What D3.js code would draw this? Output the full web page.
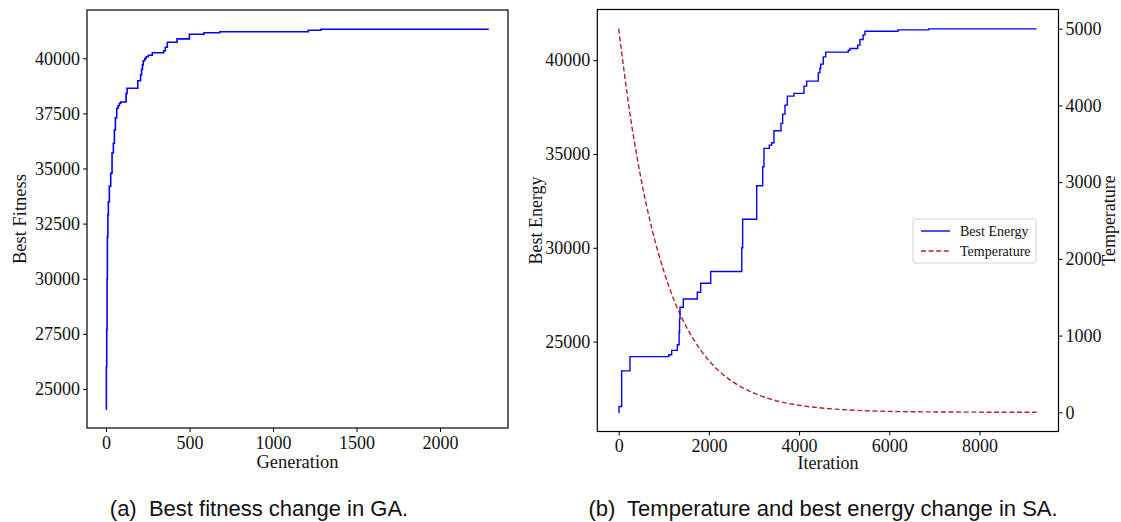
<!DOCTYPE html>
<html><head><meta charset="utf-8">
<script src="https://cdn.jsdelivr.net/npm/d3@7"></script>
<style>
html,body{margin:0;padding:0;background:#fff;}
svg{display:block;}
</style></head>
<body>
<svg id="chart" width="1121" height="522"></svg>
<script>
// ---------- DATA ----------
// (a) GA best fitness: step change points (generation, fitness)
const gaGeneration = [0, 2, 4, 6, 8, 11, 14, 20, 28, 36, 44, 50, 56, 64, 72, 80, 88, 120, 126, 190, 207, 213, 218, 223, 232, 240, 253, 277, 345, 355, 367, 425, 499, 587, 681, 1211, 1287, 2292];
const gaFitness    = [24074, 26000, 27672, 30000, 31906, 32900, 33494, 34200, 34782, 35700, 36143, 36747, 37300, 37731, 37850, 37958, 38017, 38400, 38639, 38984, 39250, 39500, 39700, 39891, 39990, 40073, 40136, 40254, 40345, 40500, 40726, 40880, 41089, 41162, 41207, 41270, 41316, 41316];

// (b) SA best energy: step change points (iteration, energy)
const saIteration = [0, 8, 66, 250, 1110, 1175, 1300, 1340, 1350, 1360, 1433, 1743, 1818, 2040, 2730, 2749, 3060, 3193, 3222, 3340, 3393, 3443, 3599, 3636, 3688, 3739, 3887, 4109, 4168, 4426, 4460, 4479, 4537, 4590, 5091, 5129, 5299, 5350, 5420, 5461, 6193, 6874, 9266];
const saEnergy    = [21219, 21540, 23440, 24201, 24300, 24530, 24830, 25500, 26200, 26832, 27274, 27630, 28110, 28735, 30000, 31518, 33307, 34318, 35298, 35474, 35596, 36235, 36629, 37125, 37604, 38083, 38227, 38616, 38882, 39324, 39558, 39787, 40176, 40426, 40532, 40623, 40799, 41102, 41350, 41544, 41614, 41667, 41667];

// (b) SA temperature (iteration, temperature)
const tempIteration = [0, 250, 500, 750, 1000, 1250, 1500, 1750, 2000, 2250, 2500, 2750, 3000, 3500, 4000, 4500, 5000, 6000, 7000, 8000, 9266];
const temperature   = [5000, 3890, 3030, 2360, 1840, 1430, 1115, 870, 675, 525, 410, 320, 250, 150, 92, 56, 34, 12, 5, 2, 0.5];

// tick values / labels
const gaXTicks = [0, 500, 1000, 1500, 2000];
const gaYTicks = [25000, 27500, 30000, 32500, 35000, 37500, 40000];
const saXTicks = [0, 2000, 4000, 6000, 8000];
const saYTicks = [25000, 30000, 35000, 40000];
const tempTicks = [0, 1000, 2000, 3000, 4000, 5000];
const legendLabels = ["Best Energy", "Temperature"];
const captions = ["(a)  Best fitness change in GA.", "(b)  Temperature and best energy change in SA."];

// ---------- DRAW ----------
const svg = d3.select("#chart");
const SERIF = "'Liberation Serif','Times New Roman',serif";
const SANS = "'Liberation Sans',Arial,Helvetica,sans-serif";
const BLUE = "#0000ff", RED = "#b22222";

function styleAxis(g, size) {
  g.selectAll("path.domain").remove();
  g.selectAll(".tick line").attr("stroke", "#000").attr("stroke-width", 1);
  g.selectAll(".tick text").attr("font-family", SERIF).attr("font-size", size).attr("fill", "#111");
}
function frame(x0, x1, y0, y1) {
  svg.append("rect").attr("x", x0).attr("y", y0).attr("width", x1 - x0).attr("height", y1 - y0)
    .attr("fill", "none").attr("stroke", "#000").attr("stroke-width", 1.2);
}

// ----- panel (a) -----
const A = {l: 87, r: 508, t: 10, b: 428};
const ax = d3.scaleLinear().domain([-114, 2407]).range([A.l, A.r]);
const ay = d3.scaleLinear().domain([23226, 42191]).range([A.b, A.t]);

svg.append("g").attr("transform", `translate(0,${A.b})`)
  .call(d3.axisBottom(ax).tickValues(gaXTicks).tickSize(4).tickPadding(4).tickFormat(d3.format("d")))
  .call(g => styleAxis(g, 18));
svg.append("g").attr("transform", `translate(${A.l},0)`)
  .call(d3.axisLeft(ay).tickValues(gaYTicks).tickSize(4).tickPadding(3).tickFormat(d3.format("d")))
  .call(g => styleAxis(g, 18));

const gaPts = gaGeneration.map((g, i) => [g, gaFitness[i]]);
svg.append("path").datum(gaPts)
  .attr("fill", "none").attr("stroke", BLUE).attr("stroke-width", 1.6)
  .attr("d", d3.line().x(d => ax(d[0])).y(d => ay(d[1])).curve(d3.curveStepAfter));
frame(A.l, A.r, A.t, A.b);

svg.append("text").attr("x", (A.l + A.r) / 2).attr("y", 468).attr("text-anchor", "middle")
  .attr("font-family", SERIF).attr("font-size", 18.5).attr("fill", "#111").text("Generation");
svg.append("text").attr("transform", `translate(20,${(A.t + A.b) / 2}) rotate(-90)`).attr("dy", "0.35em")
  .attr("text-anchor", "middle").attr("font-family", SERIF).attr("font-size", 18.5).attr("fill", "#111").text("Best Fitness");

// ----- panel (b) -----
const B = {l: 597.3, r: 1058.5, t: 9.5, b: 431.5};
const bx = d3.scaleLinear().domain([-474, 9752]).range([B.l, B.r]);
const by = d3.scaleLinear().domain([20208, 42700]).range([B.b, B.t]);
const bt = d3.scaleLinear().domain([-250, 5250]).range([B.b, B.t]);

svg.append("g").attr("transform", `translate(0,${B.b})`)
  .call(d3.axisBottom(bx).tickValues(saXTicks).tickSize(4).tickPadding(4).tickFormat(d3.format("d")))
  .call(g => styleAxis(g, 18));
svg.append("g").attr("transform", `translate(${B.l},0)`)
  .call(d3.axisLeft(by).tickValues(saYTicks).tickSize(4).tickPadding(3).tickFormat(d3.format("d")))
  .call(g => styleAxis(g, 18));
svg.append("g").attr("transform", `translate(${B.r},0)`)
  .call(d3.axisRight(bt).tickValues(tempTicks).tickSize(4).tickPadding(3).tickFormat(d3.format("d")))
  .call(g => styleAxis(g, 18));

const tPts = tempIteration.map((it, i) => [it, temperature[i]]);
svg.append("path").datum(tPts)
  .attr("fill", "none").attr("stroke", RED).attr("stroke-width", 1.4).attr("stroke-dasharray", "5,2.6")
  .attr("d", d3.line().x(d => bx(d[0])).y(d => bt(d[1])).curve(d3.curveMonotoneX));

const sPts = saIteration.map((it, i) => [it, saEnergy[i]]);
svg.append("path").datum(sPts)
  .attr("fill", "none").attr("stroke", BLUE).attr("stroke-width", 1.4)
  .attr("d", d3.line().x(d => bx(d[0])).y(d => by(d[1])).curve(d3.curveStepAfter));
frame(B.l, B.r, B.t, B.b);

svg.append("text").attr("x", (B.l + B.r) / 2).attr("y", 469).attr("text-anchor", "middle")
  .attr("font-family", SERIF).attr("font-size", 18).attr("fill", "#111").text("Iteration");
svg.append("text").attr("transform", `translate(536,${(B.t + B.b) / 2}) rotate(-90)`).attr("dy", "0.35em")
  .attr("text-anchor", "middle").attr("font-family", SERIF).attr("font-size", 18).attr("fill", "#111").text("Best Energy");
svg.append("text").attr("transform", `translate(1109,${(B.t + B.b) / 2}) rotate(-90)`).attr("dy", "0.35em")
  .attr("text-anchor", "middle").attr("font-family", SERIF).attr("font-size", 18).attr("fill", "#111").text("Temperature");

// legend
const lg = svg.append("g").attr("transform", "translate(913,219)");
lg.append("rect").attr("width", 123).attr("height", 44).attr("rx", 3)
  .attr("fill", "#fff").attr("fill-opacity", 0.8).attr("stroke", "#d0d0d0").attr("stroke-width", 1);
const styles = [{c: BLUE, dash: null}, {c: RED, dash: "5,2.6"}];
legendLabels.forEach((lab, i) => {
  const y = 12 + i * 20;
  lg.append("line").attr("x1", 8).attr("x2", 37).attr("y1", y).attr("y2", y)
    .attr("stroke", styles[i].c).attr("stroke-width", 1.4).attr("stroke-dasharray", styles[i].dash);
  lg.append("text").attr("x", 47).attr("y", y).attr("dy", "0.35em")
    .attr("font-family", SERIF).attr("font-size", 14).attr("fill", "#111").text(lab);
});

// captions
svg.append("text").attr("x", 259).attr("y", 516).attr("text-anchor", "middle").attr("xml:space", "preserve")
  .attr("font-family", SANS).attr("font-size", 22).attr("fill", "#111").text(captions[0]);
svg.append("text").attr("x", 823).attr("y", 516).attr("text-anchor", "middle").attr("xml:space", "preserve")
  .attr("font-family", SANS).attr("font-size", 22).attr("fill", "#111").text(captions[1]);
</script>
</body></html>
